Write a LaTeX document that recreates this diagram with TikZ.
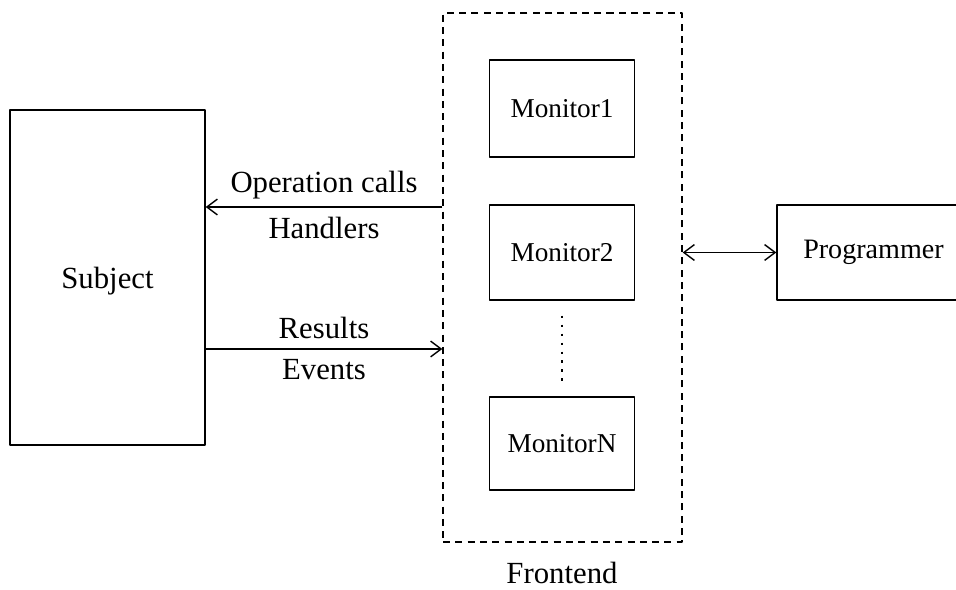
\documentclass[tikz,border=0pt]{standalone}
\usepackage{fontspec}
\setmainfont{Liberation Serif}
\usetikzlibrary{arrows.meta}
\tikzset{
  box/.style={draw, line width=0.8pt, minimum width=2.9cm, minimum height=1.9cm, inner sep=0pt},
  mon/.style={box, font=\fontsize{15.5}{18}\selectfont},
  link/.style={line width=0.8pt, -{Straight Barb[length=6pt,width=9pt]}}
}
\begin{document}
\begin{tikzpicture}[x=0.02cm, y=-0.02cm, line join=round, font=\fontsize{17.5}{20}\selectfont]
\useasboundingbox (0,0) rectangle (956,590);
% frontend frame and monitors
\node[draw, dash pattern=on 4pt off 3pt, line width=0.8pt, minimum width=4.78cm, minimum height=10.58cm] (front) at (562.5,277.5) {};
\node[mon, minimum height=1.94cm] (mon1) at (562,108.5) {Monitor1};
\node[mon] (mon2) at (562,252.5) {Monitor2};
\node[mon, minimum height=1.86cm] (monN) at (562,443.5) {MonitorN};
\node[inner sep=0pt] (flabel) at (562,573) {Frontend};
\draw[line width=1pt, dash pattern=on 1.2pt off 3.9pt, shorten <=0.3cm, shorten >=0.24cm] (mon2) -- (monN);
% subject and programmer
\node[box, minimum width=3.9cm, minimum height=6.7cm, text depth=-0.3cm] (subj) at (107.5,277.5) {Subject};
\node[box, minimum width=3.86cm, font=\fontsize{16}{19}\selectfont] (prog) at (873.5,252.5) {Programmer};
% connectors
\coordinate (opc) at (0,207);
\coordinate (res) at (0,349);
\draw[link] (opc -| front.west) -- (opc -| subj.east)
  node[midway, above=1pt] (opclbl) {Operation calls}
  node[midway, below=2pt] (hdllbl) {Handlers};
\draw[link] (res -| subj.east) -- (res -| front.west)
  node[midway, above=2pt] (reslbl) {Results}
  node[midway, below=2pt] (evtlbl) {Events};
\draw[link, {Straight Barb[length=6pt,width=9pt]}-{Straight Barb[length=6pt,width=9pt]}] (front.east |- prog.west) -- (prog.west);
\end{tikzpicture}
\end{document}
